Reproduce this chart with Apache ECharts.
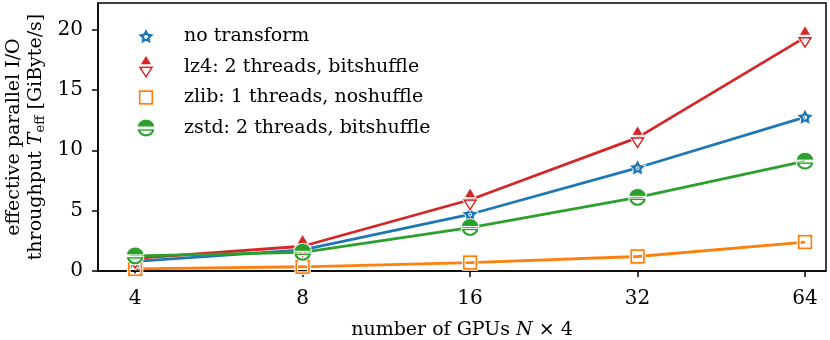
<!DOCTYPE html>
<html>
<head>
<meta charset="utf-8">
<script src="https://cdn.jsdelivr.net/npm/echarts@6/dist/echarts.min.js"></script>
<style>
  html, body { margin: 0; background: #fff; }
  #chart { width: 830px; height: 340px; }
</style>
</head>
<body>
<div id="chart"></div>
<script>
const gpus = [4, 8, 16, 32, 64];
const noTransform = [0.8, 1.75, 4.7, 8.55, 12.75];
const lz4 = [1.05, 2.05, 5.9, 11.05, 19.35];
const zlib = [0.17, 0.35, 0.7, 1.2, 2.4];
const zstd = [1.25, 1.55, 3.6, 6.1, 9.1];
const seriesNames = [
  'no transform',
  'lz4: 2 threads, bitshuffle',
  'zlib: 1 threads, noshuffle',
  'zstd: 2 threads, bitshuffle',
];
const xTicks = [4, 8, 16, 32, 64];
const yTicks = [0, 5, 10, 15, 20];

const FONT = 'DejaVu Serif';
const FS = 19;

// all marker paths share a 25x25 box (the two bare moveTo's fix the box)
const BOX = 'M0 0 M25 25 ';
const starPath = (() => {
  const cx = 12.5, cy = 12.9;
  const outer = [];
  const hole = [];
  for (let k = 0; k < 10; k++) {
    const r = k % 2 ? 4.5 : 8.8;
    const a = -Math.PI / 2 + k * Math.PI / 5;
    outer.push((cx + r * Math.cos(a)).toFixed(2) + ' ' + (cy + r * Math.sin(a)).toFixed(2));
  }
  for (let k = 4; k >= 0; k--) {
    const a = -Math.PI / 2 + Math.PI / 5 + k * 2 * Math.PI / 5;
    hole.push((cx + 1.7 * Math.cos(a)).toFixed(2) + ' ' + (cy + 1.7 * Math.sin(a)).toFixed(2));
  }
  return 'path://' + BOX + 'M' + outer.join(' L') + ' Z M' + hole.join(' L') + ' Z';
})();
const triPath = 'path://' + BOX +
  'M12.5 0.5 L18.3 10.3 L6.7 10.3 Z ' +
  'M4.3 11.6 L20.7 11.6 L12.5 24.4 Z M8.6 14.1 L12.5 20.2 L16.4 14.1 Z';
const squarePath = 'path://' + BOX +
  'M4.8 4.8 L20.2 4.8 L20.2 20.2 L4.8 20.2 Z M7.5 7.5 L7.5 17.5 L17.5 17.5 L17.5 7.5 Z';
const halfCirclePath = 'path://' + BOX +
  'M3.56 11.5 A9 9 0 0 1 21.44 11.5 Z ' +
  'M21.46 13.3 A9 9 0 0 1 3.54 13.3 Z M7.27 15.7 A6.5 6.5 0 0 0 17.73 15.7 Z';

const toPoints = (vals) => gpus.map((g, i) => [g, vals[i]]);

const makeSeries = (name, vals, color, symbol) => ({
  name,
  type: 'line',
  data: toPoints(vals),
  symbol,
  symbolSize: 25,
  showAllSymbol: true,
  lineStyle: { color, width: 2.8 },
  itemStyle: { color, borderColor: '#fff', borderWidth: 1 },
  emphasis: { disabled: true },
});

const legendIcons = [starPath, triPath, squarePath, halfCirclePath];

const chart = echarts.init(document.getElementById('chart'));
chart.setOption({
  animation: false,
  textStyle: { fontFamily: FONT },
  grid: {
    left: 98, right: 4, top: 3, bottom: 69,
    outerBoundsMode: 'none',
    show: true, borderColor: '#000', borderWidth: 1.5,
  },
  legend: {
    data: seriesNames.map((name, i) => ({ name, icon: legendIcons[i] })),
    orient: 'vertical',
    left: 128,
    top: 18.5,
    itemWidth: 66,
    itemHeight: 25,
    itemGap: 4.5,
    symbolKeepAspect: true,
    itemStyle: { borderColor: '#fff', borderWidth: 1 },
    textStyle: { fontFamily: FONT, fontSize: FS, color: '#000', lineHeight: 18 },
  },
  xAxis: {
    type: 'log',
    logBase: 2,
    min: 3.43,
    max: 69.8,
    name: 'number of GPUs {it|N} × 4',
    nameLocation: 'middle',
    nameGap: 50,
    nameTextStyle: {
      fontFamily: FONT, fontSize: FS, color: '#000',
      rich: { it: { fontFamily: FONT, fontSize: FS, fontStyle: 'italic', color: '#000' } },
    },
    axisLine: { lineStyle: { color: '#000', width: 1.5 } },
    axisTick: { length: 6, lineStyle: { color: '#000', width: 1.5 }, customValues: xTicks },
    axisLabel: {
      customValues: xTicks, fontSize: 20, color: '#000', margin: 18,
      formatter: (v) => String(Math.round(v)),
    },
    splitLine: { show: false },
    minorTick: { show: false },
  },
  yAxis: {
    type: 'value',
    min: 0,
    max: 22.2,
    interval: 5,
    name: 'effective parallel I/O\nthroughput {it|T}{sub|eff} [GiByte/s]',
    nameLocation: 'middle',
    nameGap: 51,
    nameTextStyle: {
      fontFamily: FONT, fontSize: FS, color: '#000', lineHeight: 22,
      rich: {
        it: { fontFamily: FONT, fontSize: FS, fontStyle: 'italic', color: '#000', lineHeight: 22 },
        sub: { fontFamily: FONT, fontSize: 13, color: '#000', verticalAlign: 'bottom', lineHeight: 16 },
      },
    },
    axisLine: { show: true, lineStyle: { color: '#000', width: 1.5 } },
    axisTick: { show: true, length: 6, lineStyle: { color: '#000', width: 1.5 }, customValues: yTicks },
    axisLabel: { customValues: yTicks, fontSize: 20, color: '#000', margin: 15 },
    splitLine: { show: false },
  },
  series: [
    makeSeries(seriesNames[0], noTransform, '#1f77b4', starPath),
    makeSeries(seriesNames[1], lz4, '#d62728', triPath),
    makeSeries(seriesNames[2], zlib, '#ff7f0e', squarePath),
    makeSeries(seriesNames[3], zstd, '#2ca02c', halfCirclePath),
  ],
});
</script>
</body>
</html>
